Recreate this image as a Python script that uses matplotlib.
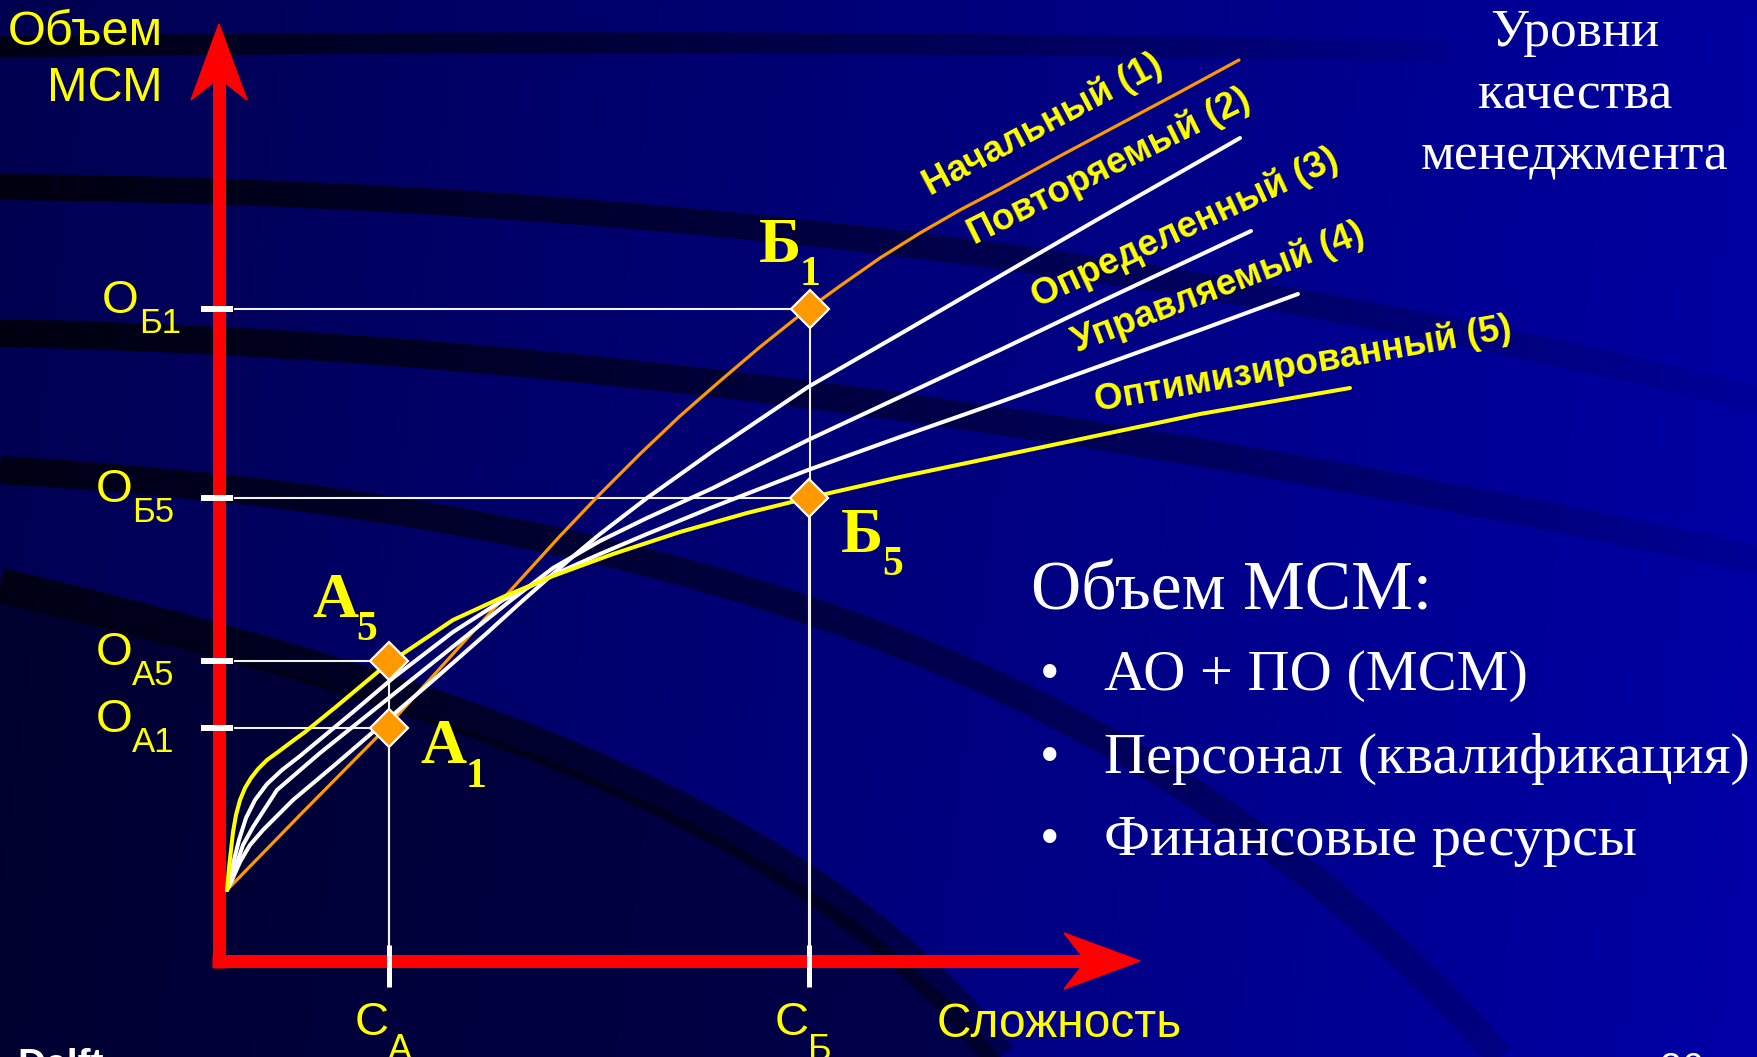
import numpy as np
import matplotlib
matplotlib.use("Agg")
import matplotlib.pyplot as plt
from matplotlib.patches import Polygon
from matplotlib.collections import LineCollection

# ---- data: complexity (x) vs. MSM volume (y), origin at the axes corner ----
levels = ["Начальный (1)", "Повторяемый (2)", "Определенный (3)",
          "Управляемый (4)", "Оптимизированный (5)"]

x_lvl1 = [0.08, 0.81, 1.68, 2.51, 3.41, 3.81, 4.21, 4.61, 5.01, 5.41, 5.81, 6.21,
          6.61, 7.01, 7.41, 7.81, 8.41, 9.01, 9.61, 10.20]
y_lvl1 = [0.71, 1.46, 2.34, 3.26, 4.25, 4.67, 5.07, 5.45, 5.80, 6.14, 6.46, 6.75,
          7.03, 7.28, 7.51, 7.72, 8.05, 8.37, 8.69, 9.01]

x_lvl2 = [0.08, 0.13, 0.21, 0.31, 0.44, 0.74, 1.18, 1.68, 2.18, 2.68, 3.01, 3.51, 3.81,
          4.28, 4.94, 5.89, 6.81, 7.81, 8.81, 9.81, 10.21]
y_lvl2 = [0.71, 0.81, 0.99, 1.16, 1.31, 1.61, 1.98, 2.41, 2.84, 3.28, 3.58, 4.02, 4.27,
          4.63, 5.10, 5.74, 6.27, 6.85, 7.43, 8.00, 8.23]

x_lvl3 = [0.08, 0.12, 0.17, 0.24, 0.34, 0.58, 1.01, 1.51, 2.01, 2.51, 2.91, 3.34, 3.81,
          4.28, 4.94, 5.89, 6.81, 7.81, 8.81, 9.81, 10.32]
y_lvl3 = [0.71, 0.81, 0.95, 1.16, 1.34, 1.71, 2.08, 2.48, 2.88, 3.28, 3.60, 3.93, 4.20,
          4.43, 4.73, 5.21, 5.64, 6.11, 6.59, 7.06, 7.30]

x_lvl4 = [0.08, 0.11, 0.15, 0.20, 0.27, 0.36, 0.48, 0.63, 0.81, 1.34, 1.74, 2.34, 2.84,
          3.34, 3.81, 4.28, 4.94, 5.89, 6.81, 7.81, 8.81, 9.81, 10.79]
y_lvl4 = [0.71, 0.83, 1.01, 1.21, 1.43, 1.61, 1.77, 1.91, 2.05, 2.49, 2.83, 3.29, 3.61,
          3.86, 4.07, 4.27, 4.54, 4.91, 5.24, 5.59, 5.95, 6.31, 6.67]

x_lvl5 = [0.08, 0.09, 0.10, 0.12, 0.14, 0.17, 0.21, 0.26, 0.32, 0.39, 0.48, 0.59, 0.71,
          0.86, 1.18, 1.67, 2.34, 2.84, 3.34, 3.94, 4.61, 5.28, 5.89, 6.81, 7.81, 8.81,
          9.81, 11.31]
y_lvl5 = [0.71, 0.81, 0.93, 1.11, 1.29, 1.46, 1.61, 1.73, 1.83, 1.92, 2.01, 2.09, 2.18,
          2.29, 2.55, 2.96, 3.41, 3.64, 3.85, 4.07, 4.29, 4.48, 4.63, 4.84, 5.05, 5.26,
          5.47, 5.73]

curves_x = [x_lvl1, x_lvl2, x_lvl3, x_lvl4, x_lvl5]
curves_y = [y_lvl1, y_lvl2, y_lvl3, y_lvl4, y_lvl5]

# marked points Б1, Б5, А5, А1
point_letter = ["Б", "Б", "А", "А"]
point_sub = ["1", "5", "5", "1"]
point_x = [5.91, 5.90, 1.70, 1.70]
point_y = [6.52, 4.63, 3.00, 2.33]

# axis tick labels
c_sub = ["А", "Б"]
c_x = [1.70, 5.90]

bullets = ["АО + ПО (МСМ)", "Персонал (квалификация)", "Финансовые ресурсы"]

# ---- styling ----
YEL = "#ffff00"
ORG = "#ff9900"
curve_colors = [ORG, "white", "white", "white", YEL]
curve_lw = [2.3, 2.9, 2.9, 2.9, 2.9]
label_pos = [(8.24, 8.36, 28), (8.90, 7.94, 26.5), (9.66, 7.33, 25),
             (9.99, 6.73, 21), (10.84, 5.96, 10)]
letter_off = [(-0.30, 0.47), (0.53, -0.54), (-0.54, 0.44), (0.54, -0.35)]
sub_off = [(0.00, 0.24), (0.84, -0.77), (-0.22, 0.21), (0.87, -0.59)]
o_label_x = [-0.80, -0.87, -0.87, -0.87]
SANS = "Liberation Sans"
SERIF = "Liberation Serif"

W, H = 1758, 1057
fig = plt.figure(figsize=(W / 100, H / 100), dpi=100)

# ---- slide background ----
bg = fig.add_axes([0, 0, 1, 1])
bg.set_xlim(0, W)
bg.set_ylim(H, 0)
bg.axis("off")
gx, gy = np.meshgrid(np.linspace(0, 1, 400), np.linspace(0, 1, 240))
blue = (80 + 80 * gx + 6 * gy) / 255
bg.imshow(np.dstack([np.zeros_like(blue), np.zeros_like(blue), blue]),
          extent=(0, W, H, 0), aspect="auto", interpolation="bilinear")


def bezier(p0, c1, c2, p3, n=160):
    t = np.linspace(0, 1, n)[:, None]
    return ((1 - t) ** 3 * np.array(p0) + 3 * (1 - t) ** 2 * t * np.array(c1)
            + 3 * (1 - t) * t ** 2 * np.array(c2) + t ** 3 * np.array(p3))


def band(pts, width, a0, a1):
    segs = np.stack([pts[:-1], pts[1:]], axis=1)
    cols = np.zeros((len(segs), 4))
    cols[:, 3] = np.linspace(a0, a1, len(segs))
    bg.add_collection(LineCollection(segs, colors=cols, linewidths=width * 0.72,
                                     capstyle="butt"))


low = bezier((0, 600), (420, 700), (800, 810), (1000, 1057))
verts = np.vstack([low, [[0, 1057], [0, 600]]])
bg.add_patch(Polygon(verts, closed=True, facecolor="black", alpha=0.42, lw=0))
band(bezier((0, 585), (400, 680), (800, 800), (1000, 1057)), 34, 0.75, 0.4)
band(bezier((0, 47), (500, 40), (1000, 42), (1450, 52)), 21, 0.75, 0.05)
band(bezier((0, 187), (600, 192), (1200, 260), (1758, 400)), 26, 0.8, 0.05)
band(bezier((0, 333), (600, 345), (1200, 440), (1758, 560)), 28, 0.8, 0.08)
band(bezier((0, 470), (500, 500), (1100, 600), (1500, 1057)), 28, 0.75, 0.15)

# ---- diagram ----
ax = fig.add_axes([0, 0, 1, 1])
ax.set_xlim(-2.19, 15.39)
ax.set_ylim(-0.96, 9.61)
ax.axis("off")
ax.patch.set_alpha(0)

# red axes with notched arrow heads
x_end, y_end = 9.21, 9.37
head_len, head_half, notch = 0.76, 0.28, 0.54
ax.plot([0, 0], [-0.065, y_end - notch], color="red", lw=9.4, solid_capstyle="butt", zorder=2)
ax.plot([-0.065, x_end - notch], [0, 0], color="red", lw=9.4, solid_capstyle="butt", zorder=2)
ax.add_patch(Polygon([(0, y_end), (head_half, y_end - head_len), (0, y_end - notch),
                      (-head_half, y_end - head_len)], color="red", zorder=2))
ax.add_patch(Polygon([(x_end, 0), (x_end - head_len, head_half), (x_end - notch, 0),
                      (x_end - head_len, -head_half)], color="red", zorder=2))

# guide lines
for px, py in zip(point_x, point_y):
    ax.plot([0.16, px], [py, py], color="#f2f2f2", lw=1.5, zorder=2.5)
    ax.plot([px, px], [0.16, py], color="#f2f2f2", lw=1.5, zorder=2.5)

# tick dashes
for py in point_y:
    ax.plot([-0.18, 0.14], [py, py], color="white", lw=4.3, solid_capstyle="butt", zorder=4)
for cx in c_x:
    ax.plot([cx, cx], [-0.26, 0.16], color="white", lw=3.6, solid_capstyle="butt", zorder=4)

# level curves
for cx, cy, col, lw in zip(curves_x, curves_y, curve_colors, curve_lw):
    ax.plot(cx, cy, color=col, lw=lw, solid_joinstyle="round", solid_capstyle="round", zorder=3)

for name, (lx, ly, rot) in zip(levels, label_pos):
    ax.text(lx, ly, name, color=YEL, fontsize=26.5, fontweight="bold", family=SANS,
            rotation=rot, rotation_mode="anchor", ha="center", va="center", zorder=5)

# marked points
ax.plot(point_x, point_y, linestyle="none", marker="D", ms=19, mfc=ORG, mec="white",
        mew=1.6, zorder=6)
for px, py, let, sub, lo, so in zip(point_x, point_y, point_letter, point_sub,
                                    letter_off, sub_off):
    ax.text(px + lo[0], py + lo[1], let, color=YEL, fontsize=46, fontweight="bold",
            family=SERIF, ha="center", va="baseline", zorder=6)
    ax.text(px + so[0], py + so[1], sub, color=YEL, fontsize=30, fontweight="bold",
            family=SERIF, ha="center", va="baseline", zorder=6)

# volume tick labels
for py, let, sub, ox in zip(point_y, point_letter, point_sub, o_label_x):
    ax.text(ox, py - 0.04, "О", color=YEL, fontsize=34, family=SANS, ha="right", va="baseline")
    ax.text(ox, py - 0.24, let + sub, color=YEL, fontsize=25, family=SANS, ha="left", va="baseline")

# complexity tick labels
for cx, sub in zip(c_x, c_sub):
    ax.text(cx - 0.005, -0.74, "С", color=YEL, fontsize=34, family=SANS, ha="right", va="baseline")
    ax.text(cx - 0.01, -0.99, sub, color=YEL, fontsize=26, family=SANS, ha="left", va="baseline")

ax.text(7.18, -0.76, "Сложность", color=YEL, fontsize=34.5, family=SANS, ha="left", va="baseline")
ax.text(-0.56, 9.16, "Объем", color=YEL, fontsize=35, family=SANS, ha="right", va="baseline")
ax.text(-0.56, 8.60, "МСМ", color=YEL, fontsize=35, family=SANS, ha="right", va="baseline")

# right-hand notes
for ty, line in zip([9.15, 8.53, 7.91], ["Уровни", "качества", "менеджмента"]):
    ax.text(13.56, ty, line, color="white", fontsize=38.5, family=SERIF, ha="center", va="baseline")
ax.text(8.12, 3.52, "Объем МСМ:", color="white", fontsize=50, family=SERIF, ha="left", va="baseline")
for ty, line in zip([2.71, 1.88, 1.06], bullets):
    ax.text(8.31, ty, "•", color="white", fontsize=40, family=SERIF, ha="center", va="baseline")
    ax.text(8.85, ty, line, color="white", fontsize=42, family=SERIF, ha="left", va="baseline")

# footer, cut off by the slide edge
ax.text(-2.02, -1.15, "Delft", color="white", fontsize=28, fontweight="bold", family=SANS,
        ha="left", va="baseline", clip_on=False)
ax.text(14.41, -1.19, "26", color="white", fontsize=28, family=SANS, ha="left",
        va="baseline", clip_on=False)

fig.savefig("out.png", dpi=100)
